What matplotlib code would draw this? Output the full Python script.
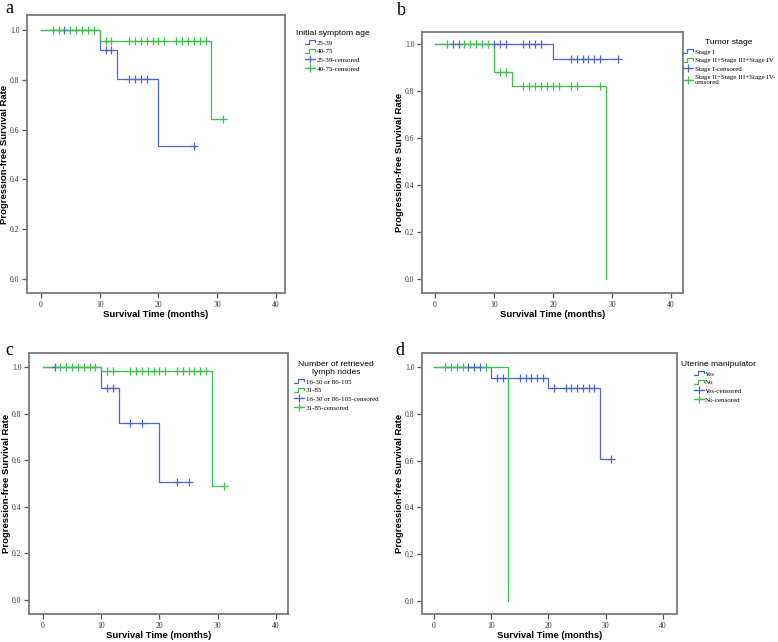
import numpy as np
import matplotlib
matplotlib.use("Agg")
import matplotlib.pyplot as plt
from matplotlib.lines import Line2D
from matplotlib.legend_handler import HandlerBase

# ---------------- data ----------------
# Panel a: Initial symptom age
a_labels = ["25-39", "40-75", "25-39-censored", "40-75-censored"]
a_g1_time = [0, 10, 13, 20, 26]
a_g1_surv = [1.0, 0.918, 0.802, 0.535, 0.535]
a_g1_cens = [4, 11, 12, 15, 16, 17, 18, 26]
a_g2_time = [0, 10, 29, 31]
a_g2_surv = [1.0, 0.957, 0.641, 0.641]
a_g2_cens = [2, 3, 5, 6, 7, 8, 9, 11, 12, 15, 16, 17, 18, 19, 20, 21, 23, 24, 25, 26, 27, 28, 31]

# Panel b: Tumor stage
b_labels = ["Stage I", "Stage II+Stage III+Stage IV", "Stage I-censored",
            "Stage II+Stage III+Stage IV-\ncensored"]
b_g1_time = [0, 20, 31]
b_g1_surv = [1.0, 0.936, 0.936]
b_g1_cens = [3, 4, 10, 11, 12, 15, 16, 17, 18, 23, 24, 25, 26, 27, 28, 31]
b_g2_time = [0, 10, 13, 29]
b_g2_surv = [1.0, 0.882, 0.821, 0.0]
b_g2_cens = [2, 5, 6, 7, 8, 9, 11, 12, 15, 16, 17, 18, 19, 20, 21, 23, 24, 28]

# Panel c: Number of retrieved lymph nodes
c_labels = ["16-30 or 86-105", "31-85", "16-30 or 86-105-censored", "31-85-censored"]
c_g1_time = [0, 10, 13, 20, 25]
c_g1_surv = [1.0, 0.910, 0.760, 0.506, 0.506]
c_g1_cens = [2, 11, 12, 15, 17, 23, 25]
c_g2_time = [0, 10, 29, 31]
c_g2_surv = [1.0, 0.981, 0.489, 0.489]
c_g2_cens = [3, 4, 5, 6, 7, 8, 9, 11, 12, 15, 16, 17, 18, 19, 20, 21, 23, 24, 25, 26, 27, 28, 31]

# Panel d: Uterine manipulator
d_labels = ["Yes", "No", "Yes-censored", "No-censored"]
d_g1_time = [0, 10, 20, 29, 31]
d_g1_surv = [1.0, 0.951, 0.909, 0.605, 0.605]
d_g1_cens = [6, 7, 8, 11, 12, 15, 16, 17, 18, 19, 21, 23, 24, 25, 26, 27, 28, 31]
d_g2_time = [0, 13]
d_g2_surv = [1.0, 0.0]
d_g2_cens = [2, 3, 4, 5, 9]

x_ticks = [0, 10, 20, 30, 40]
y_ticks = [0.0, 0.2, 0.4, 0.6, 0.8, 1.0]

# ---------------- style ----------------
BLUE = "#4d68cc"
GREEN = "#3fbf4c"
FRAME = "#7a7a7a"
SANS = "Liberation Sans"
SERIF = "Liberation Serif"
W, H = 778, 642

fig = plt.figure(figsize=(W / 100, H / 100), dpi=100)


def rect(l, r, t, b):
    return [l / W, 1 - b / H, (r - l) / W, (b - t) / H]


def surv_at(times, survs, t):
    idx = np.searchsorted(np.asarray(times), t, side="right") - 1
    return np.asarray(survs)[idx]


class StepHandler(HandlerBase):
    def create_artists(self, legend, orig_handle, xdescent, ydescent,
                       width, height, fontsize, trans):
        xs = np.array([0, 0.4, 0.4, 1.0, 1.0]) * width - xdescent
        ys = np.array([0.1, 0.1, 0.9, 0.9, 0.45]) * height - ydescent
        ln = Line2D(xs, ys, color=orig_handle.get_color(),
                    lw=orig_handle.get_linewidth(), transform=trans)
        return [ln]


panels = [
    dict(letter="a", lpos=(5, 13), r=(27, 285, 15, 293), xl=(-2.38, 41.53), yl=(-0.056, 1.060),
         g1=(a_g1_time, a_g1_surv, a_g1_cens), g2=(a_g2_time, a_g2_surv, a_g2_cens),
         labels=a_labels, title="Initial symptom age", leg=(333, 30)),
    dict(letter="b", lpos=(397, 15), r=(422, 683, 32, 293), xl=(-2.2, 42.03), yl=(-0.0596, 1.051),
         g1=(b_g1_time, b_g1_surv, b_g1_cens), g2=(b_g2_time, b_g2_surv, b_g2_cens),
         labels=b_labels, title="Tumor stage", leg=(729, 39)),
    dict(letter="c", lpos=(5, 355), r=(29, 288, 353, 614), xl=(-2.4, 42.06), yl=(-0.060, 1.060),
         g1=(c_g1_time, c_g1_surv, c_g1_cens), g2=(c_g2_time, c_g2_surv, c_g2_cens),
         labels=c_labels, title="Number of retrieved\nlymph nodes", leg=(336, 361)),
    dict(letter="d", lpos=(395, 355), r=(422, 677, 353, 614), xl=(-2.1, 42.45), yl=(-0.056, 1.06),
         g1=(d_g1_time, d_g1_surv, d_g1_cens), g2=(d_g2_time, d_g2_surv, d_g2_cens),
         labels=d_labels, title="Uterine manipulator", leg=(718, 361)),
]

for p in panels:
    l, r, t, b = p["r"]
    ax = fig.add_axes(rect(l, r, t, b))
    ax.set_xlim(*p["xl"])
    ax.set_ylim(*p["yl"])
    width_px, height_px = r - l, b - t

    t1, s1, c1 = p["g1"]
    t2, s2, c2 = p["g2"]
    ax.step(t1, s1, where="post", color=BLUE, lw=0.9)
    ax.step(t2, s2, where="post", color=GREEN, lw=0.9)
    ax.plot(c1, surv_at(t1, s1, c1), linestyle="none", marker="+", ms=5.5, mew=0.9, color=BLUE)
    ax.plot(c2, surv_at(t2, s2, c2), linestyle="none", marker="+", ms=5.5, mew=0.9, color=GREEN)

    ax.set_xticks(x_ticks)
    ax.set_yticks(y_ticks)
    ax.set_yticklabels([f"{v:.1f}" for v in y_ticks])
    ax.tick_params(direction="out", length=3.5, width=0.9, color="#555555",
                   labelsize=5.5, labelcolor="#333333", pad=2)
    for lab in ax.get_xticklabels() + ax.get_yticklabels():
        lab.set_fontfamily(SERIF)
    for sp in ax.spines.values():
        sp.set_color(FRAME)
        sp.set_linewidth(1.3)

    ax.set_xlabel("Survival Time (months)", fontsize=6.8, fontweight="bold", family=SANS)
    ax.xaxis.set_label_coords(0.5, -17 / height_px)
    ax.set_ylabel("Progression-free Survival Rate", fontsize=6.8, fontweight="bold", family=SANS)
    ax.yaxis.set_label_coords(-18 / width_px, 0.5)

    s_h1 = Line2D([], [], color=BLUE, lw=0.9)
    s_h2 = Line2D([], [], color=GREEN, lw=0.9)
    c_h1 = Line2D([], [], color=BLUE, lw=0.9, marker="+", ms=5.5, mew=0.9)
    c_h2 = Line2D([], [], color=GREEN, lw=0.9, marker="+", ms=5.5, mew=0.9)
    cx, ty = p["leg"]
    leg = ax.legend([s_h1, s_h2, c_h1, c_h2], p["labels"], title=p["title"],
                    loc="upper center", bbox_to_anchor=(cx / W, 1 - ty / H),
                    bbox_transform=fig.transFigure, frameon=False,
                    prop={"family": SERIF, "size": 5},
                    title_fontproperties={"family": SANS, "size": 6.1},
                    handler_map={s_h1: StepHandler(), s_h2: StepHandler()},
                    handlelength=1.45, handletextpad=0.25, labelspacing=0.4,
                    borderpad=0, borderaxespad=0, numpoints=1)
    leg.get_title().set_multialignment("center")

    fig.text(p["lpos"][0] / W, 1 - p["lpos"][1] / H, p["letter"], family=SERIF,
             fontsize=13, va="baseline", ha="left")

fig.savefig("out.png", dpi=100)
